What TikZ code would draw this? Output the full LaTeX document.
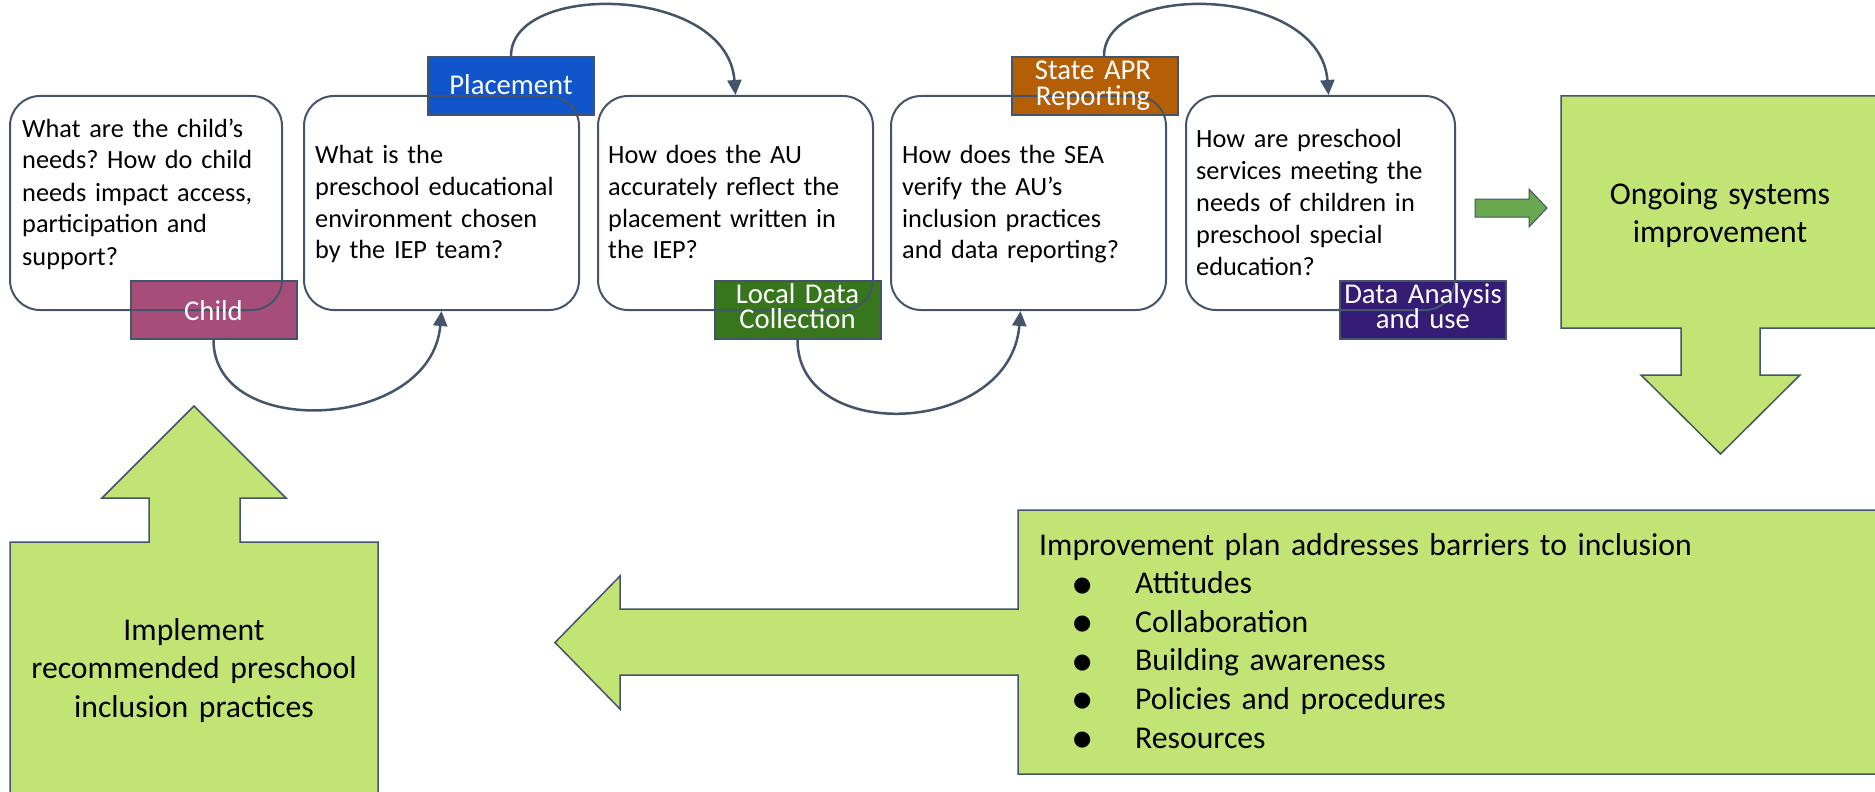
\documentclass[tikz,border=0pt]{standalone}
\usepackage{fontspec}
\setmainfont{Carlito}
\newfontfamily\symfont{DejaVu Sans}
\usetikzlibrary{arrows.meta}
\frenchspacing
\definecolor{edge}{HTML}{44546A}
\definecolor{lgreen}{RGB}{193,228,117}
\definecolor{dgreen}{HTML}{6AA84F}
\definecolor{cchild}{HTML}{A64D79}
\definecolor{cplace}{HTML}{1155CC}
\definecolor{clocal}{HTML}{38761D}
\definecolor{cstate}{HTML}{B45F06}
\definecolor{cdata}{HTML}{351C75}
\newcommand{\bul}{\raisebox{2.5pt}{\symfont\fontsize{21}{21}\selectfont ●}}
\newcommand{\itm}[1]{\hspace*{34pt}\makebox[62pt][l]{\bul}#1}
\tikzset{
  qbox/.style={draw=edge, line width=2pt, rounded corners=30pt, inner sep=0pt, minimum height=214pt},
  qtext/.style={anchor=base west, inner sep=0pt, align=left, text width=262pt,
                font=\fontsize{26.3}{32}\selectfont},
  tagbox/.style={draw=edge, line width=2pt, fill=#1, inner sep=0pt, minimum width=166pt, minimum height=58pt},
  tagtext/.style={anchor=base, inner sep=0pt, align=center, text width=166pt, text=white,
                  font=\fontsize{28.7}{25}\selectfont},
  flow/.style={draw=edge, line width=2.5pt, -{Triangle[length=15pt,width=14pt]}},
  callout/.style={draw=edge, line width=1.5pt, fill=lgreen, line join=miter},
  smallarrow/.style={draw=edge, line width=1pt, fill=dgreen},
  bigtext/.style={inner sep=0pt, align=center, font=\fontsize{31.7}{38.5}\selectfont},
  listtext/.style={anchor=base west, inner sep=0pt, align=left, text width=820pt,
                   font=\fontsize{31.7}{38.6}\selectfont},
}
\begin{document}
\begin{tikzpicture}[x=1pt,y=-1pt]
\useasboundingbox (0,0) rectangle (1875,792);

% green callout shapes
\draw[callout] (10,810) -- (10,542) -- (149,542) -- (149,498) -- (102,498) -- (194,406)
  -- (286,498) -- (240,498) -- (240,542) -- (378,542) -- (378,810) -- cycle;
\draw[callout] (1561,96) -- (1885,96) -- (1885,328) -- (1760,328) -- (1760,375) -- (1800,375)
  -- (1720.5,454) -- (1641,375) -- (1681,375) -- (1681,328) -- (1561,328) -- cycle;
\draw[callout] (1885,510) -- (1018,510) -- (1018,609) -- (620,609) -- (620,576) -- (555,642.5)
  -- (620,709) -- (620,675) -- (1018,675) -- (1018,774) -- (1885,774) -- cycle;
\draw[smallarrow] (1475,199) -- (1529,199) -- (1529,189) -- (1547,208) -- (1529,227)
  -- (1529,217) -- (1475,217) -- cycle;

% tags
\node[tagbox=cchild] (t1) at (213.5,310) {};
\node[tagbox=cplace] (t2) at (511,86) {};
\node[tagbox=clocal] (t3) at (797.5,310) {};
\node[tagbox=cstate] (t4) at (1095,86) {};
\node[tagbox=cdata]  (t5) at (1423,310) {};

% question boxes (outlines over the tags)
\node[qbox, minimum width=272pt] (b1) at (146,203) {};
\node[qbox, minimum width=275pt] (b2) at (441.5,203) {};
\node[qbox, minimum width=275pt] (b3) at (735.5,203) {};
\node[qbox, minimum width=275pt] (b4) at (1028.5,203) {};
\node[qbox, minimum width=269pt] (b5) at (1320.5,203) {};

% question texts
\node[qtext] (q1) at (22,137) {What are the child’s\\needs? How do child\\needs impact access,\\participation and\\support?};
\node[qtext] (q2) at (315,163) {What is the\\preschool educational\\environment chosen\\by the IEP team?};
\node[qtext] (q3) at (608,163) {How does the AU\\accurately reflect the\\placement written in\\the IEP?};
\node[qtext] (q4) at (902,163) {How does the SEA\\verify the AU’s\\inclusion practices\\and data reporting?};
\node[qtext] (q5) at (1196,147) {How are preschool\\services meeting the\\needs of children in\\preschool special\\education?};

% tag texts
\node[tagtext] (l1) at (213.5,320) {Child};
\node[tagtext] (l2) at (511,95) {Placement};
\node[tagtext] (l3) at (797.5,303) {Local Data\\Collection};
\node[tagtext] (l4) at (1093,80) {State APR\\Reporting};
\node[tagtext] (l5) at (1423,303) {Data Analysis\\and use};

% connectors
\draw[flow] (t1.south) .. controls +(0,101) and +(-10,120) .. (b2.south);
\draw[flow] (t3.south) .. controls +(0,105) and +(-10,125) .. ([xshift=-8pt]b4.south);
\draw[flow] (t2.north) .. controls +(0,-75) and +(-8,-110) .. (b3.north);
\draw[flow] ([xshift=9pt]t4.north) .. controls +(0,-75) and +(-8,-110) .. ([xshift=8pt]b5.north);

% callout texts
\node[bigtext, anchor=base, text width=360pt] (impl) at (194,640) {Implement\\recommended preschool\\inclusion practices};
\node[bigtext, anchor=base, text width=300pt] (ongo) at (1720,204) {Ongoing systems\\improvement};
\node[listtext] (plan) at (1039,555) {Improvement plan addresses barriers to inclusion\\
\itm{Attitudes}\\
\itm{Collaboration}\\
\itm{Building awareness}\\
\itm{Policies and procedures}\\
\itm{Resources}};
\end{tikzpicture}
\end{document}
